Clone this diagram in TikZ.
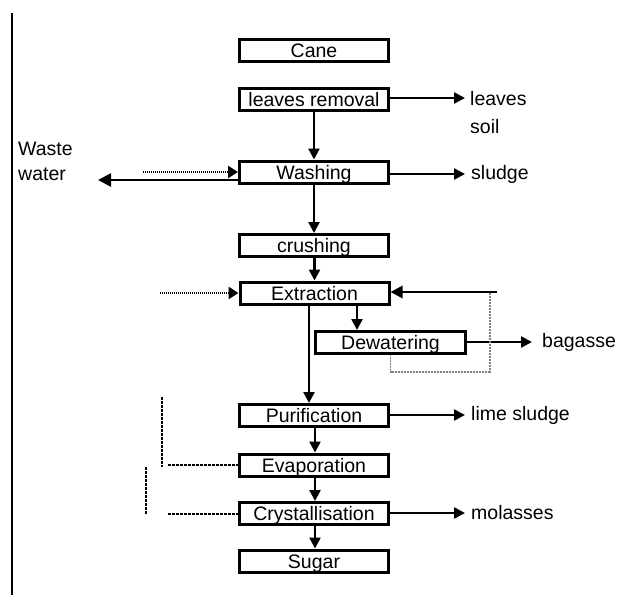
\documentclass[tikz,border=0pt]{standalone}
\usepackage{fontspec}
\setmainfont{Liberation Sans}
\usetikzlibrary{arrows.meta}
\begin{document}
\begin{tikzpicture}[x=1pt,y=-1pt,
  box/.style={draw, line width=3pt, minimum width=149pt, minimum height=22pt, inner sep=0pt, text height=14pt, text depth=0pt, font=\fontsize{19.5}{22}\selectfont},
  lbl/.style={font=\fontsize{19.5}{25}\selectfont, inner sep=0pt, align=left},
  flow/.style={line width=2.4pt, -{Triangle[length=11pt,width=11pt]}},
  feed/.style={line width=2.6pt, dash pattern=on 1.2pt off 0.8pt, -{Triangle[length=10pt,width=12pt]}},
  thinlink/.style={line width=1.1pt, gray, dash pattern=on 1pt off 0.5pt},
  leftlink/.style={line width=1.6pt, dash pattern=on 3pt off 1pt}
]
\useasboundingbox (0,0) rectangle (621,595);
\draw[line width=2.2pt] (12,13) -- (12,595);

\node[box] (cane) at (314,50) {Cane};
\node[box] (lr) at (314,99.5) {leaves removal};
\node[box] (wash) at (314,172) {Washing};
\node[box] (crush) at (314,245.5) {crushing};
\node[box] (ext) at (314.5,293) {Extraction};
\node[box, minimum width=150pt] (dew) at (390.5,342.5) {Dewatering};
\node[box] (pur) at (314,415.5) {Purification};
\node[box] (evap) at (314,465) {Evaporation};
\node[box] (cry) at (314,513.5) {Crystallisation};
\node[box] (sugar) at (314,561) {Sugar};

% labels
\node[lbl, anchor=north west] (leaves) at (470,91) {leaves\\[3pt]soil};
\node[lbl, anchor=west] (sludge) at (471,174) {sludge};
\node[lbl, anchor=west] (bagasse) at (542,342) {bagasse};
\node[lbl, anchor=west] (lime) at (471,415) {lime sludge};
\node[lbl, anchor=west] (mol) at (471,513) {molasses};
\node[lbl, anchor=north west] (waste) at (18,142) {Waste\\water};

% free ends
\coordinate (lrout) at (465,98);
\coordinate (sludgein) at (465,174);
\coordinate (bagin) at (532,342);
\coordinate (limein) at (465,415);
\coordinate (molin) at (465,513);
\coordinate (wwend) at (98,180);
\coordinate (wfeed) at (143,172);
\coordinate (efeed) at (160,293);
\coordinate (rec) at (497,292);

% main flow
\draw[flow] (lr.south) -- (wash.north);
\draw[flow] (wash.south) -- (crush.north);
\draw[flow] ([xshift=0.5pt]crush.south) -- ([xshift=0pt]ext.north);
\draw[flow] ([xshift=42.5pt]ext.south) -- ([xshift=42.5pt]ext.south |- dew.north);
\draw[flow] ([xshift=-5.5pt]ext.south) -- ([xshift=-5pt]pur.north);
\draw[flow] ([xshift=1pt]pur.south) -- ([xshift=1pt]evap.north);
\draw[flow] ([xshift=1pt]evap.south) -- ([xshift=1pt]cry.north);
\draw[flow] ([xshift=1pt]cry.south) -- ([xshift=1pt]sugar.north);

% outputs
\draw[flow] (lr.east |- lrout) -- (lrout);
\draw[flow] (wash.east |- sludgein) -- (sludgein);
\draw[flow] (dew.east |- bagin) -- (bagin);
\draw[flow] (pur.east |- limein) -- (limein);
\draw[flow] (cry.east |- molin) -- (molin);
\draw[line width=2.6pt, -{Triangle[length=13pt,width=13pt]}] (wash.west |- wwend) -- (wwend);

% feeds
\draw[feed] (wfeed) -- (wash.west |- wfeed);
\draw[feed] (efeed) -- (ext.west |- efeed);
\draw[line width=2.8pt, -{Triangle[length=12pt,width=12pt]}] (rec) -- (ext.east |- rec);
\draw[thinlink] (dew.south) -- ++(0,17) -| ([xshift=-7pt]rec);

% left dashed links
\draw[leftlink] (162,397) -- (162,467);
\draw[leftlink] (168,465) -- (evap.west |- 0,465);
\draw[leftlink] (146,467) -- (146,515);
\draw[leftlink] (168,514) -- (cry.west |- 0,514);
\end{tikzpicture}
\end{document}
